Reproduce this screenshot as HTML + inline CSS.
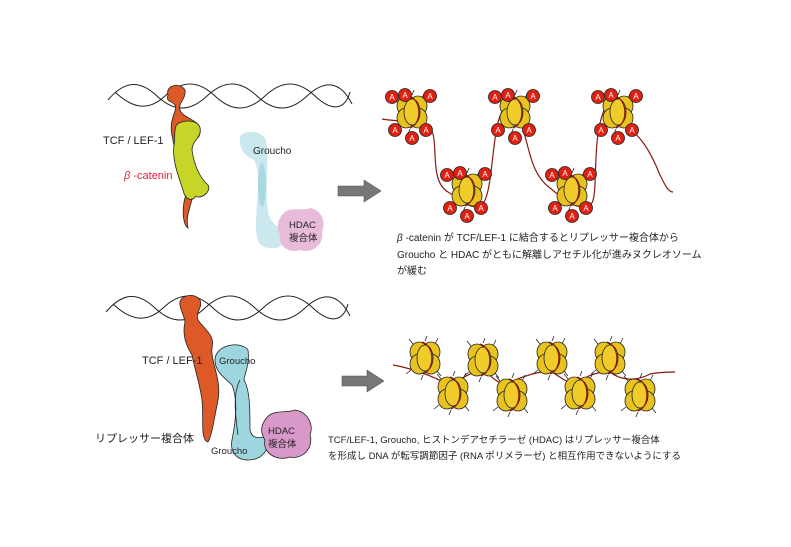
<!DOCTYPE html>
<html><head><meta charset="utf-8"><style>
body{margin:0;background:#fff}
svg{display:block}
text{font-family:"Liberation Sans","Noto Sans CJK JP",sans-serif}
</style></head><body>
<svg width="791" height="547" viewBox="0 0 791 547" xmlns="http://www.w3.org/2000/svg">
<defs>
<g id="nuc">
 <g stroke="#222" stroke-width="0.8">
  <line x1="-12" y1="-14" x2="-16" y2="-19"/><line x1="10" y1="-14" x2="13" y2="-20"/>
  <line x1="-14" y1="12" x2="-19" y2="16"/><line x1="12" y1="13" x2="16" y2="18"/>
  <line x1="0" y1="-17" x2="2" y2="-22"/><line x1="-2" y1="17" x2="-4" y2="22"/>
 </g>
 <ellipse cx="-6" cy="-6" rx="9" ry="10" fill="#e8c21e" stroke="#222" stroke-width="0.8"/>
 <ellipse cx="6" cy="-6" rx="9" ry="10" fill="#e8c21e" stroke="#222" stroke-width="0.8"/>
 <ellipse cx="-6" cy="6" rx="9" ry="10" fill="#e8c21e" stroke="#222" stroke-width="0.8"/>
 <ellipse cx="6" cy="6" rx="9" ry="10" fill="#e8c21e" stroke="#222" stroke-width="0.8"/>
 <ellipse cx="0" cy="0" rx="8" ry="13" fill="#f0cc2a" stroke="#222" stroke-width="0.8"/>
 <path d="M-3,-16 C10,-12 10,12 -2,16" fill="none" stroke="#8a1a10" stroke-width="1.2"/>
</g>
<g id="A"><circle r="6.5" fill="#e02010" stroke="#222" stroke-width="0.8"/><text y="3" font-size="8" fill="#fff" text-anchor="middle">A</text></g>
<g id="nucA">
 <use href="#nuc"/>
 <use href="#A" x="-20" y="-15"/><use href="#A" x="-7" y="-17"/><use href="#A" x="18" y="-16"/>
 <use href="#A" x="-17" y="18"/><use href="#A" x="0" y="26"/><use href="#A" x="14" y="18"/>
</g>
</defs>

<g fill="none" stroke="#222" stroke-width="1">
<path d="M108,100 C125,80 140,80 157,96 S190,112 207,96 S240,80 257,96 S290,112 307,96 S340,80 352,104"/>
<path d="M115,92 C132,108 148,112 165,96 S198,80 215,96 S248,112 265,96 S298,80 315,96 S345,110 350,92"/>
</g>
<path d="M168,95 C165,85 180,82 185,90 C186,100 178,102 180,110 C183,118 198,120 200,128 C202,140 190,144 186,140 C184,160 196,175 194,190 C192,205 185,215 188,228 C182,224 182,205 186,195 C182,175 175,155 172,135 C168,118 180,108 174,104 C170,100 166,102 168,95Z" fill="#dd5a28" stroke="#222" stroke-width="0.8"/>
<path d="M176,126 C178,120 198,118 200,128 C202,138 192,140 192,150 C194,165 200,178 208,185 C212,192 200,200 196,196 C192,202 185,200 183,190 C178,175 172,160 174,145 C175,138 174,132 176,126Z" fill="#c7d528" stroke="#222" stroke-width="0.8"/>
<text x="103" y="144" font-size="11" fill="#222">TCF / LEF-1</text>
<text x="124" y="179" font-size="11" fill="#e02040"><tspan font-style="italic">β</tspan> -catenin</text>
<path d="M240,140 C238,130 260,128 266,140 C270,160 264,190 268,210 C270,225 280,228 286,230 C288,240 282,250 270,248 C258,248 256,238 256,225 C256,200 262,175 254,160 C244,155 240,150 240,140Z" fill="#cbe8ee"/>
<ellipse cx="262" cy="185" rx="4" ry="22" fill="#a9d8e2"/>
<text x="253" y="154" font-size="10" fill="#222">Groucho</text>
<path d="M282,215 C290,205 300,212 310,208 C322,210 326,222 322,232 C324,245 312,254 300,250 C288,254 278,245 280,235 C276,228 278,220 282,215Z" fill="#e8bcd8"/>
<text x="289" y="228" font-size="9.5" fill="#222">HDAC</text>
<text x="289" y="241" font-size="9.5" fill="#222">複合体</text>

<path d="M338,186 H364 V180 L381,191 L364,202 V196 H338Z" fill="#777" stroke="#555" stroke-width="0.6"/>
<path d="M342,376 H367 V370 L384,381 L367,392 V386 H342Z" fill="#777" stroke="#555" stroke-width="0.6"/>

<path d="M382,119 C400,122 415,120 430,128 C440,140 428,180 448,192 C458,198 470,210 480,206 C495,200 490,120 505,108 M515,115 C530,130 525,170 550,188 C560,196 575,212 590,205 C600,200 590,140 605,108 M625,125 C640,135 650,150 660,175 C665,185 668,192 673,192" fill="none" stroke="#8a1a10" stroke-width="1.2"/>
<use href="#nucA" x="412" y="112"/>
<use href="#nucA" x="467" y="190"/>
<use href="#nucA" x="515" y="112"/>
<use href="#nucA" x="572" y="190"/>
<use href="#nucA" x="618" y="112"/>

<text font-size="10" fill="#222"><tspan x="397" y="241"><tspan font-style="italic">β</tspan> -catenin が TCF/LEF-1 に結合するとリプレッサー複合体から</tspan><tspan x="397" y="258">Groucho と HDAC がともに解離しアセチル化が進みヌクレオソーム</tspan><tspan x="397" y="274">が緩む</tspan></text>

<g fill="none" stroke="#222" stroke-width="1">
<path d="M106,312 C123,292 138,292 155,308 S188,324 205,308 S238,292 255,308 S288,324 305,308 S338,292 350,316"/>
<path d="M113,304 C130,320 146,324 163,308 S196,292 213,308 S246,324 263,308 S296,292 313,308 S343,322 348,304"/>
</g>
<path d="M180,305 C178,295 195,292 200,300 C203,308 195,312 198,320 C205,330 215,335 212,348 C210,360 222,380 218,400 C214,420 212,435 208,442 C200,440 204,420 202,400 C200,385 195,370 192,355 C186,345 182,335 185,322 C184,315 181,312 180,305Z" fill="#dd5a28" stroke="#222" stroke-width="0.8"/>
<path d="M215,360 C215,345 240,340 248,350 C250,365 244,375 244,380 C250,390 250,410 250,430 C252,440 260,438 268,436 C270,450 262,460 248,460 C235,460 230,450 232,440 C236,420 238,400 232,385 C225,378 215,372 215,360Z" fill="#9ed6e0" stroke="#222" stroke-width="0.8"/>
<path d="M240,380 C232,395 236,420 238,435" fill="none" stroke="#222" stroke-width="0.8"/>
<text x="219" y="364" font-size="9.5" fill="#222">Groucho</text>
<text x="211" y="454" font-size="9.5" fill="#222">Groucho</text>
<path d="M265,420 C272,408 285,414 295,410 C308,412 314,425 310,435 C314,448 302,460 290,457 C276,462 262,452 265,440 C260,432 261,426 265,420Z" fill="#d999c8" stroke="#222" stroke-width="0.8"/>
<text x="268" y="434" font-size="9.5" fill="#222">HDAC</text>
<text x="268" y="447" font-size="9.5" fill="#222">複合体</text>
<text x="142" y="364" font-size="11" fill="#222">TCF / LEF-1</text>
<text x="95" y="442" font-size="11" fill="#222">リプレッサー複合体</text>

<path d="M393,365 C410,368 430,375 450,385 C460,380 470,372 483,370 C495,380 505,390 515,380 C530,374 545,370 552,372 C565,380 575,390 585,378 C595,372 605,372 610,372 C620,380 635,382 650,374 C660,372 670,372 675,372" fill="none" stroke="#8a1a10" stroke-width="1.2"/>
<use href="#nuc" x="425" y="358"/>
<use href="#nuc" x="483" y="360"/>
<use href="#nuc" x="552" y="358"/>
<use href="#nuc" x="610" y="358"/>
<use href="#nuc" x="453" y="393"/>
<use href="#nuc" x="512" y="395"/>
<use href="#nuc" x="580" y="393"/>
<use href="#nuc" x="640" y="395"/>

<text font-size="9.5" fill="#222"><tspan x="328" y="443">TCF/LEF-1, Groucho, ヒストンデアセチラーゼ (HDAC) はリプレッサー複合体</tspan><tspan x="328" y="459">を形成し DNA が転写調節因子 (RNA ポリメラーゼ) と相互作用できないようにする</tspan></text>
</svg>
</body></html>
